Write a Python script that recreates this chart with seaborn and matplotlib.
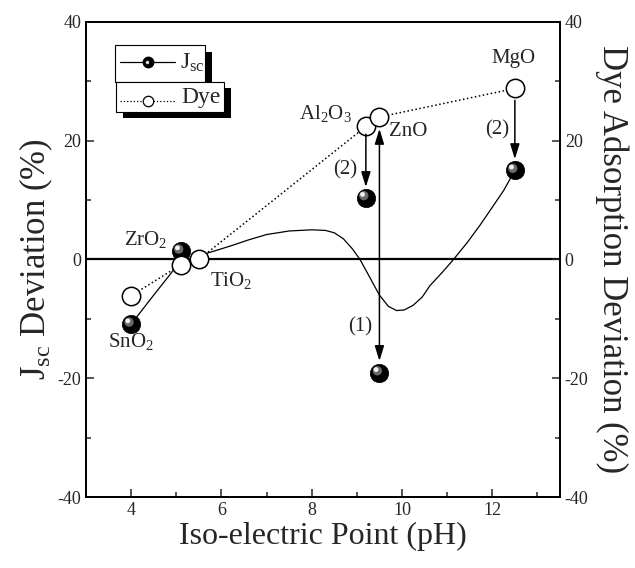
import matplotlib
matplotlib.use("Agg")
import matplotlib.pyplot as plt
import matplotlib.transforms as mtransforms
from matplotlib.patches import Rectangle
from matplotlib.lines import Line2D
from matplotlib.ticker import MultipleLocator
import seaborn as sns

# oxides, iso-electric points and deviations
oxides = [r"SnO$_2$", r"ZrO$_2$", r"TiO$_2$", r"Al$_2$O$_3$", "ZnO", "MgO"]
iep = [4.0, 5.1, 5.5, 9.2, 9.5, 12.5]
jsc_dev = [-10.9, 1.4, 0.0, 10.4, -19.1, 15.0]
dye_dev = [-6.1, -0.9, 0.0, 22.4, 24.0, 28.8]

# guide curve through the Jsc data
curve_x = [4.0, 4.5, 5.0, 5.3, 5.5, 5.7, 6.0, 6.25, 6.6, 7.0, 7.5, 8.0, 8.3, 8.5,
           8.7, 8.9, 9.07, 9.3, 9.5, 9.7, 9.88, 10.05, 10.25, 10.45, 10.62, 10.9,
           11.14, 11.45, 11.73, 12.0, 12.25, 12.5]
curve_y = [-10.9, -6.0, -1.2, 0.0, 0.4, 1.1, 1.8, 2.4, 3.3, 4.2, 4.8, 5.0, 4.9, 4.5,
           3.5, 1.8, 0.0, -3.2, -6.0, -7.9, -8.6, -8.5, -7.7, -6.3, -4.4, -2.1,
           0.0, 2.9, 5.8, 8.8, 11.6, 15.0]

# arrows between dye and Jsc values
arrow_x = [9.2, 9.5, 12.5]
arrow_from = [21.1, 22.0, 26.8]
arrow_to = [12.2, -17.1, 16.9]
arrow_tags = ["(2)", "(1)", "(2)"]
arrow_both = [False, True, False]

sns.set_style("ticks")
plt.rcParams["font.family"] = ["Liberation Serif", "DejaVu Serif"]
plt.rcParams["mathtext.fontset"] = "custom"
plt.rcParams["mathtext.rm"] = "Liberation Serif"
plt.rcParams["mathtext.it"] = "Liberation Serif:italic"
plt.rcParams["axes.unicode_minus"] = False

fig, ax = plt.subplots(figsize=(6.35, 5.68), dpi=100)
fig.subplots_adjust(left=0.1354, right=0.8819, bottom=0.125, top=0.9613)

ax.axhline(0, color="black", lw=1.6, zorder=1)

sns.lineplot(x=curve_x, y=curve_y, sort=False, estimator=None, color="black",
             lw=0.9, ax=ax, zorder=2)
sns.lineplot(x=iep, y=dye_dev, sort=False, estimator=None, color="black",
             lw=1.1, ls=":", ax=ax, zorder=2)

# Jsc spheres with a little highlight
sns.scatterplot(x=iep, y=jsc_dev, s=175, color="black", edgecolor="black",
                linewidth=0.5, ax=ax, zorder=3)
hl1 = mtransforms.offset_copy(ax.transData, fig=fig, x=-1.5, y=1.5, units="points")
hl2 = mtransforms.offset_copy(ax.transData, fig=fig, x=-2.4, y=2.4, units="points")
sns.scatterplot(x=iep, y=jsc_dev, s=45, color="#6a6a6a", edgecolor="none",
                ax=ax, zorder=3, transform=hl1)
sns.scatterplot(x=iep, y=jsc_dev, s=12, color="#f0f0f0", edgecolor="none",
                ax=ax, zorder=3, transform=hl2)

# dye adsorption circles
sns.scatterplot(x=iep, y=dye_dev, s=175, color="white", edgecolor="black",
                linewidth=1.1, ax=ax, zorder=4)

# arrows
for x0, y0, y1, both in zip(arrow_x, arrow_from, arrow_to, arrow_both):
    style = "<|-|>" if both else "-|>"
    ax.annotate("", xy=(x0, y1), xytext=(x0, y0),
                arrowprops=dict(arrowstyle=style + ",head_length=0.65,head_width=0.2",
                                color="black", lw=1.1, mutation_scale=14,
                                shrinkA=0, shrinkB=0), zorder=5)

tag_offsets = [(-6, -7), (-5, -59), (-4, 0)]
for x0, y0, y1, tag, off in zip(arrow_x, arrow_from, arrow_to, arrow_tags, tag_offsets):
    ax.annotate(tag, xy=(x0, (y0 + y1) / 2), xytext=off, textcoords="offset points",
                ha="right", va="center", fontsize=15)

# oxide names
label_on = ["jsc", "jsc", "dye", "dye", "dye", "dye"]
label_off = [(0, -5), (-9.4, 8.6), (8, -15), (-10, 9.4), (7.2, -10.4), (-1, 18)]
label_ha = ["center", "right", "left", "right", "left", "center"]
label_va = ["top", "center", "center", "center", "center", "baseline"]
for i, name in enumerate(oxides):
    yv = jsc_dev[i] if label_on[i] == "jsc" else dye_dev[i]
    ax.annotate(name, xy=(iep[i], yv), xytext=label_off[i], textcoords="offset points",
                ha=label_ha[i], va=label_va[i], fontsize=15, zorder=6)

# axes
ax.set_xlim(3, 13.5)
ax.set_ylim(-40, 40)
ax.xaxis.set_major_locator(MultipleLocator(2))
ax.xaxis.set_minor_locator(MultipleLocator(1))
ax.yaxis.set_major_locator(MultipleLocator(20))
ax.yaxis.set_minor_locator(MultipleLocator(10))
ax.tick_params(which="both", direction="in", width=1.1, labelsize=13, top=False, right=False)
ax.tick_params(which="major", length=6)
ax.tick_params(which="minor", length=3.5)
ax.set_xlabel("Iso-electric Point (pH)", fontsize=23, labelpad=2)
ax.set_ylabel(r"J$_{\rm sc}$ Deviation (%)", fontsize=25, labelpad=2)

ax2 = ax.twinx()
ax2.set_ylim(-40, 40)
ax2.yaxis.set_major_locator(MultipleLocator(20))
ax2.yaxis.set_minor_locator(MultipleLocator(10))
ax2.tick_params(which="both", direction="in", width=1.1, labelsize=13)
ax2.tick_params(which="major", length=6)
ax2.tick_params(which="minor", length=3.5)
ax2.set_ylabel("Dye Adsorption Deviation (%)", fontsize=25, rotation=270, labelpad=29)

for a in (ax, ax2):
    for sp in a.spines.values():
        sp.set_linewidth(1.3)
        sp.set_color("black")

# stacked legend boxes with black drop shadows
dx, dy = 0.0141, -0.0141
boxes = [(0.0612, 0.8743, 0.1899, 0.0773), (0.0633, 0.8112, 0.2278, 0.0631)]
for bx, by, bw, bh in boxes:
    ax.add_patch(Rectangle((bx + dx, by + dy), bw, bh, transform=ax.transAxes,
                           facecolor="black", edgecolor="none", zorder=7))
    ax.add_patch(Rectangle((bx, by), bw, bh, transform=ax.transAxes,
                           facecolor="white", edgecolor="black", lw=0.8, zorder=8))

ax.add_line(Line2D([0.0717, 0.1878], [0.9152, 0.9152], transform=ax.transAxes,
                   color="black", lw=0.9, zorder=9))
ax.plot([0.1302], [0.9152], marker="o", ms=7.5, color="black", transform=ax.transAxes, zorder=9)
ax.plot([0.1290], [0.9168], marker="o", ms=2.5, color="#dddddd", mec="none",
        transform=ax.transAxes, zorder=9)
ax.text(0.1983, 0.9137, r"J$_{\rm sc}$", transform=ax.transAxes, fontsize=17,
        va="center", ha="left", zorder=9)

ax.add_line(Line2D([0.0717, 0.1878], [0.8343, 0.8343], transform=ax.transAxes,
                   color="black", lw=0.9, ls=":", zorder=9))
ax.plot([0.1302], [0.8343], marker="o", ms=7.5, mfc="white", mec="black", mew=0.9,
        transform=ax.transAxes, zorder=9)
ax.text(0.2019, 0.841, "Dye", transform=ax.transAxes, fontsize=17,
        va="center", ha="left", zorder=9)

fig.savefig("out.png", dpi=100)
